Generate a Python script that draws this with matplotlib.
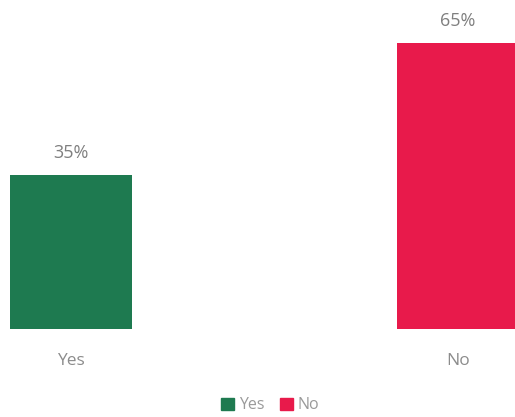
import matplotlib.pyplot as plt

categories = ['Yes', 'No']
values = [35, 65]
colors = ['#1e7a50', '#e81a4b']

plt.rcParams['font.family'] = ['Open Sans', 'DejaVu Sans']

fig = plt.figure(figsize=(5.15, 4.17), dpi=100)
ax = fig.add_axes([0, 0.211, 1, 0.739])

x = list(range(len(categories)))
bars = ax.bar(x, values, width=0.315, color=colors)
for b, v in zip(bars, values):
    ax.text(b.get_x() + b.get_width() / 2, v + 3.0, f'{v}%', ha='center', va='bottom',
            fontsize=13, color='#7f7f7f')

ax.set_xlim(-0.183, 1.147)
ax.set_ylim(0, 70)
ax.set_xticks(x)
ax.set_xticklabels(categories, fontsize=12.5, color='#8c8c8c')
ax.tick_params(axis='x', length=0, pad=17)
ax.set_yticks([])
for s in ax.spines.values():
    s.set_visible(False)

handles = [plt.Rectangle((0, 0), 1, 1, color=c) for c in colors]
fig.legend(handles, categories, loc='center', bbox_to_anchor=(0.525, 0.028), ncol=2,
           frameon=False, fontsize=11.5, handlelength=0.8, handleheight=0.8,
           handletextpad=0.3, columnspacing=1.0, labelcolor='#9a9a9a')

fig.savefig('out.png', dpi=100)
